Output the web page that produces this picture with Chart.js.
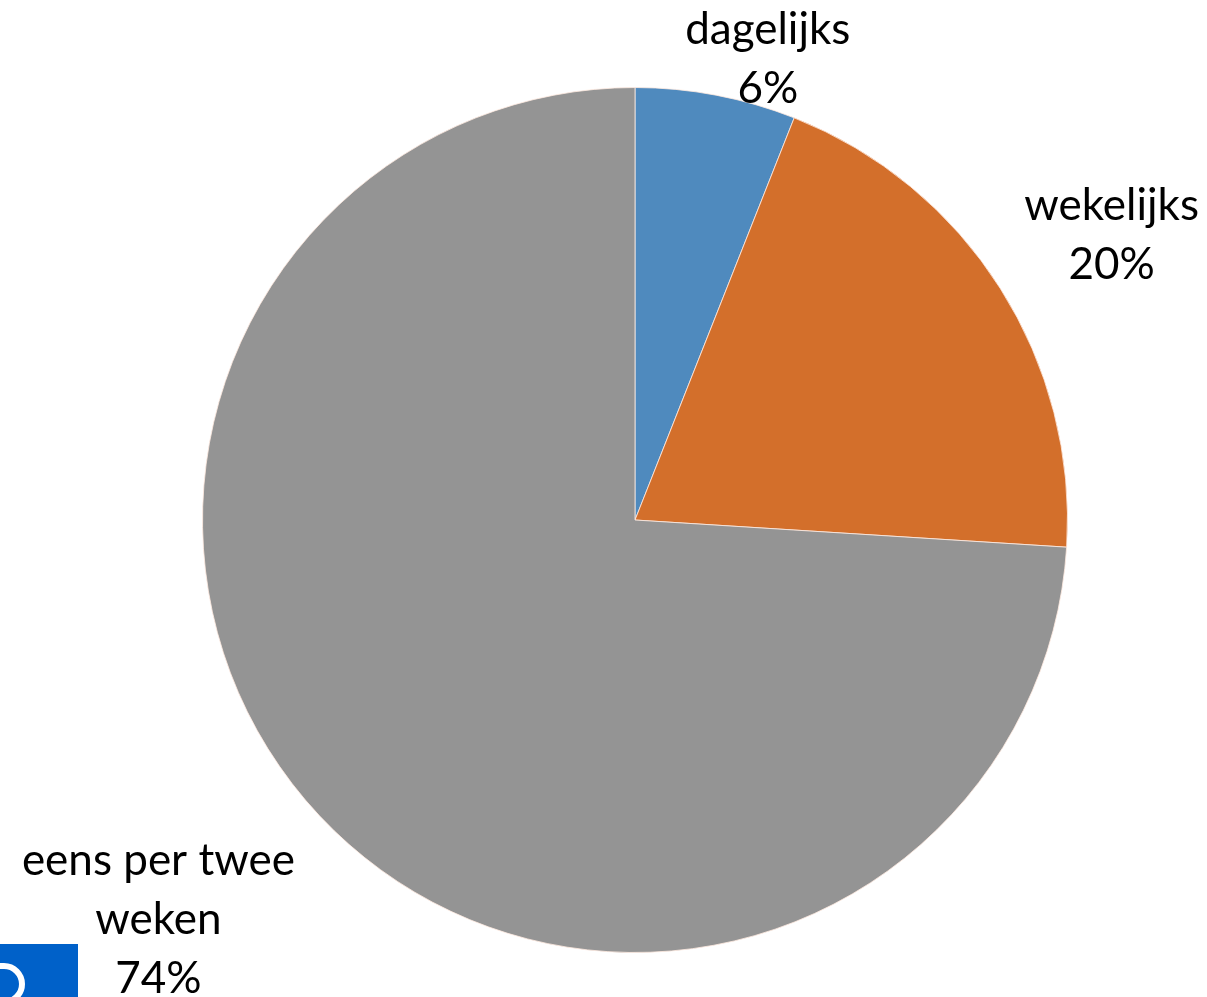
<!DOCTYPE html>
<html>
<head>
<meta charset="utf-8">
<script src="https://cdn.jsdelivr.net/npm/chart.js@4/dist/chart.umd.min.js"></script>
<style>
  html, body { margin: 0; padding: 0; background: #ffffff; }
  #wrap { width: 1207px; height: 997px; position: relative; }
</style>
</head>
<body>
<div id="wrap"><canvas id="c" width="1207" height="997"></canvas></div>
<script>
const categories = ["dagelijks", "wekelijks", "eens per twee weken"];
const values = [6, 20, 74];
const labelLines = [["dagelijks", "6%"], ["wekelijks", "20%"], ["eens per twee", "weken", "74%"]];
const colors = ["#4F8ABE", "#D36F2B", "#949494"];

// label anchor offsets relative to pie centre, in units of radius (text layout only)
const labelAnchors = [
  { dx: 0.307, dy: -1.065 },
  { dx: 1.102, dy: -0.658 },
  { dx: -1.102, dy: 0.924 }
];

const labelPlugin = {
  id: 'sliceLabels',
  afterDatasetsDraw(chart) {
    const ctx = chart.ctx;
    const meta = chart.getDatasetMeta(0);
    ctx.save();
    ctx.font = '44px Lato, "Open Sans", sans-serif';
    ctx.fillStyle = '#000000';
    ctx.textAlign = 'center';
    ctx.textBaseline = 'middle';
    const lh = 59;
    meta.data.forEach((arc, i) => {
      const r = arc.outerRadius;
      const cx = arc.x + labelAnchors[i].dx * r;
      const cy = arc.y + labelAnchors[i].dy * r;
      const lines = labelLines[i];
      const startY = cy - (lines.length - 1) * lh / 2;
      lines.forEach((t, k) => ctx.fillText(t, cx, startY + k * lh));
    });
    ctx.restore();
  }
};

const logoPlugin = {
  id: 'logo',
  afterDraw(chart) {
    const ctx = chart.ctx;
    ctx.save();
    ctx.fillStyle = '#0061C9';
    ctx.fillRect(0, 944, 78, 53);
    ctx.strokeStyle = '#ffffff';
    ctx.lineWidth = 6;
    ctx.beginPath();
    ctx.moveTo(-2, 966);
    ctx.lineTo(4, 966);
    ctx.arc(4, 984, 18, -Math.PI / 2, Math.PI / 2);
    ctx.stroke();
    ctx.restore();
  }
};

new Chart(document.getElementById('c'), {
  type: 'pie',
  data: {
    labels: categories,
    datasets: [{
      data: values,
      backgroundColor: colors,
      borderColor: 'rgba(255,235,225,0.8)',
      borderWidth: 1
    }]
  },
  options: {
    responsive: false,
    animation: false,
    layout: { padding: { left: 202, right: 139, top: 87, bottom: 44 } },
    plugins: { legend: { display: false }, tooltip: { enabled: false } }
  },
  plugins: [labelPlugin, logoPlugin]
});
</script>
</body>
</html>
